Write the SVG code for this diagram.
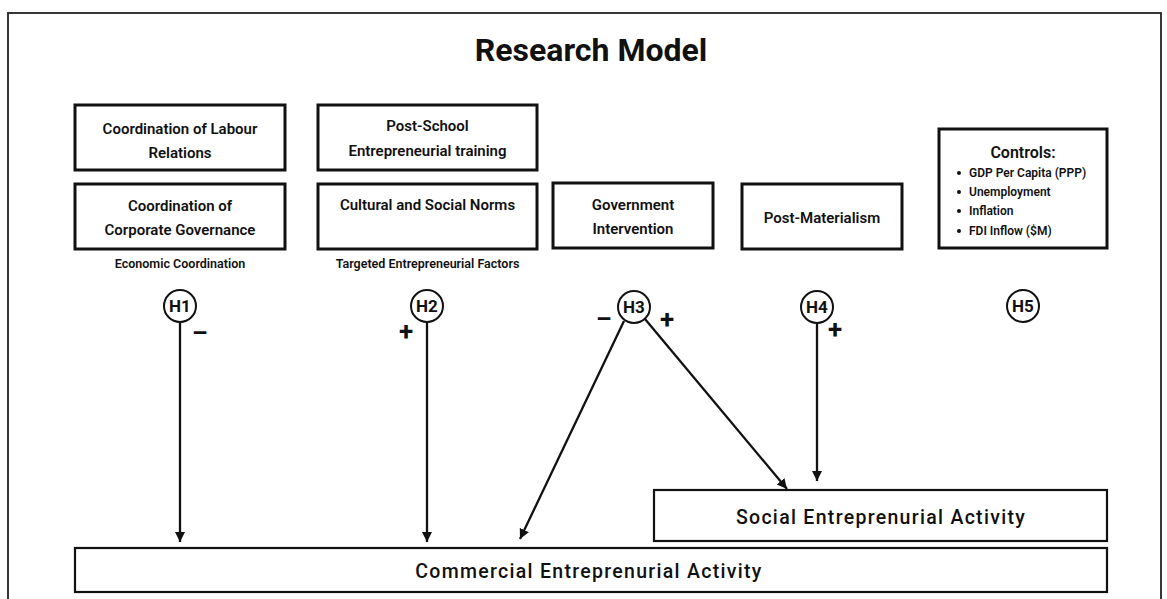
<svg xmlns="http://www.w3.org/2000/svg" width="1167" height="599" viewBox="0 0 1167 599">
  <defs>
    <marker id="arrow" viewBox="0 0 10 10" refX="10" refY="5" markerWidth="10" markerHeight="12" markerUnits="userSpaceOnUse" orient="auto">
      <path d="M0,0 L10,5 L0,10 z" fill="#111"/>
    </marker>
  </defs>
  <style>
    text { font-family: Roboto, "Liberation Sans", sans-serif; fill: #111; }
    .frame { fill: #fff; stroke: #222; stroke-width: 1.8; }
    .box { fill: #fff; stroke: #111; stroke-width: 3; }
    .outcome { fill: #fff; stroke: #111; stroke-width: 2.2; }
    .title { font-size: 32px; font-weight: 700; text-anchor: middle; }
    .lbl { font-size: 15px; font-weight: 600; text-anchor: middle; dominant-baseline: central; }
    .cap { font-size: 12.5px; font-weight: 600; text-anchor: middle; dominant-baseline: central; }
    .ctl { font-size: 12px; font-weight: 600; dominant-baseline: central; }
    .ctlhead { font-size: 16px; font-weight: 600; text-anchor: middle; dominant-baseline: central; }
    .hyp circle { fill: #fff; stroke: #111; stroke-width: 2; }
    .hyp text { font-size: 17px; font-weight: 700; text-anchor: middle; dominant-baseline: central; }
    .sign { font-size: 26px; font-weight: 700; text-anchor: middle; dominant-baseline: central; }
    .sign.neg { font-family: "Liberation Sans", Arial, sans-serif; font-size: 25px; }
    .out { font-size: 19.5px; font-weight: 500; text-anchor: middle; dominant-baseline: central; letter-spacing: 1.3px; }
    .link { stroke: #111; stroke-width: 2.3; fill: none; marker-end: url(#arrow); }
  </style>

  <!-- page frame -->
  <rect class="frame" x="8" y="13" width="1153" height="600"/>

  <text class="title" x="591" y="61">Research Model</text>

  <!-- economic coordination -->
  <g id="labour-relations">
    <rect class="box" x="75" y="105" width="210" height="65"/>
    <text class="lbl" x="180" y="129">Coordination of Labour</text>
    <text class="lbl" x="180" y="153">Relations</text>
  </g>
  <g id="corporate-governance">
    <rect class="box" x="75" y="184" width="210" height="65"/>
    <text class="lbl" x="180" y="206">Coordination of</text>
    <text class="lbl" x="180" y="230">Corporate Governance</text>
  </g>
  <text class="cap" x="180" y="263">Economic Coordination</text>

  <!-- targeted entrepreneurial factors -->
  <g id="post-school-training">
    <rect class="box" x="318" y="105" width="219" height="65"/>
    <text class="lbl" x="427.5" y="126">Post-School</text>
    <text class="lbl" x="427.5" y="151">Entrepreneurial training</text>
  </g>
  <g id="social-norms">
    <rect class="box" x="318" y="184" width="219" height="65"/>
    <text class="lbl" x="427.5" y="205">Cultural and Social Norms</text>
  </g>
  <text class="cap" x="427.5" y="263">Targeted Entrepreneurial Factors</text>

  <g id="government-intervention">
    <rect class="box" x="553" y="183" width="160" height="65"/>
    <text class="lbl" x="633" y="205">Government</text>
    <text class="lbl" x="633" y="229">Intervention</text>
  </g>

  <g id="post-materialism">
    <rect class="box" x="742" y="184" width="160" height="65"/>
    <text class="lbl" x="822" y="218">Post-Materialism</text>
  </g>

  <g id="controls">
    <rect class="box" x="939" y="129" width="168" height="119"/>
    <text class="ctlhead" x="1023" y="152">Controls:</text>
    <g class="bullets" fill="#111">
      <circle cx="959" cy="173" r="2"/>
      <circle cx="959" cy="192" r="2"/>
      <circle cx="959" cy="211" r="2"/>
      <circle cx="959" cy="231" r="2"/>
    </g>
    <text class="ctl" x="969" y="173">GDP Per Capita (PPP)</text>
    <text class="ctl" x="969" y="192">Unemployment</text>
    <text class="ctl" x="969" y="211">Inflation</text>
    <text class="ctl" x="969" y="231">FDI Inflow ($M)</text>
  </g>

  <!-- hypotheses -->
  <g id="h1" class="hyp">
    <circle cx="180" cy="306" r="16"/>
    <text x="180" y="306">H1</text>
  </g>
  <g id="h2" class="hyp">
    <circle cx="427" cy="306" r="16"/>
    <text x="427" y="306">H2</text>
  </g>
  <g id="h3" class="hyp">
    <circle cx="634" cy="307" r="16"/>
    <text x="634" y="307">H3</text>
  </g>
  <g id="h4" class="hyp">
    <circle cx="817" cy="307" r="16"/>
    <text x="817" y="307">H4</text>
  </g>
  <g id="h5" class="hyp">
    <circle cx="1023" cy="306" r="16"/>
    <text x="1023" y="306">H5</text>
  </g>

  <!-- outcomes -->
  <g id="social-activity">
    <rect class="outcome" x="654" y="490" width="453" height="51"/>
    <text class="out" x="881" y="517">Social Entreprenurial Activity</text>
  </g>
  <g id="commercial-activity">
    <rect class="outcome" x="75" y="548" width="1032" height="44"/>
    <text class="out" x="589" y="571">Commercial Entreprenurial Activity</text>
  </g>

  <!-- effect paths -->
  <g id="connectors">
    <line class="link" x1="180" y1="322" x2="180" y2="542"/>
    <line class="link" x1="427" y1="322" x2="427" y2="542"/>
    <line class="link" x1="624" y1="321" x2="520" y2="539"/>
    <line class="link" x1="645" y1="319" x2="787" y2="489"/>
    <line class="link" x1="817" y1="323" x2="817" y2="481"/>
  </g>

  <!-- effect signs -->
  <text class="sign neg" x="200" y="332">−</text>
  <text class="sign" x="406" y="331">+</text>
  <text class="sign neg" x="604" y="318">−</text>
  <text class="sign" x="667" y="319">+</text>
  <text class="sign" x="835" y="329">+</text>
</svg>
